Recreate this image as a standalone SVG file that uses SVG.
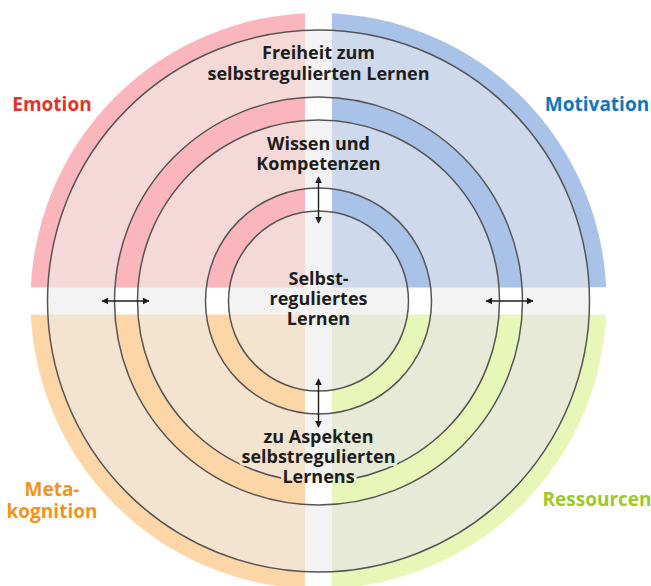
<svg xmlns="http://www.w3.org/2000/svg" xmlns:xlink="http://www.w3.org/1999/xlink" width="651" height="586" viewBox="0 0 651 586">
  <style>
    .ring { fill: none; stroke: #555555; stroke-width: 1.5; }
    .t { font-family: "Open Sans", "Liberation Sans", sans-serif; font-weight: 700; font-size: 18px; text-anchor: middle; }
    .lab { font-family: "Open Sans", "Liberation Sans", sans-serif; font-weight: 700; font-size: 19px; text-anchor: middle; }
    .conn { stroke: #1d1d1b; stroke-width: 1.4; fill: none; marker-start: url(#head); marker-end: url(#head); }
    .band { fill: none; stroke-width: 23; }
  </style>
  <defs>
    <marker id="head" viewBox="0 0 10 10" refX="9" refY="5" markerWidth="7" markerHeight="7" markerUnits="userSpaceOnUse" orient="auto-start-reverse">
      <path d="M0,0 L10,5 L0,10 Z" fill="#1d1d1b"/>
    </marker>
    <clipPath id="cTL"><rect x="0" y="0" width="305" height="287.3"/></clipPath>
    <clipPath id="cTR"><rect x="332" y="0" width="319" height="287.3"/></clipPath>
    <clipPath id="cBL"><rect x="0" y="314.7" width="305" height="272"/></clipPath>
    <clipPath id="cBR"><rect x="332" y="314.7" width="319" height="272"/></clipPath>
    <!-- ring lines are cut where the lower caption crosses them -->
    <mask id="knock" maskUnits="userSpaceOnUse" x="0" y="0" width="651" height="586">
      <rect x="0" y="0" width="651" height="586" fill="#ffffff"/>
      <use xlink:href="#aspekteText" fill="#000000" stroke="#000000" stroke-width="6" stroke-linejoin="round"/>
    </mask>
  </defs>

  <!-- grey cross and white gaps between the rings -->
  <g id="background">
    <circle cx="318.5" cy="301" r="271" fill="#f3f3f3"/>
    <circle cx="318.5" cy="301" r="192.5" fill="none" stroke="#ffffff" stroke-width="23"/>
    <circle cx="318.5" cy="301" r="101.5" fill="none" stroke="#ffffff" stroke-width="23"/>
  </g>

  <!-- coloured quadrants: outer band, light fill, middle band, light fill, inner band, light core -->
  <g id="q-emotion" clip-path="url(#cTL)">
    <circle cx="318.5" cy="301" r="288" fill="#fbb6bd"/>
    <circle cx="318.5" cy="301" r="271" fill="#f5d9d9"/>
    <circle class="band" cx="318.5" cy="301" r="192.5" stroke="#fbb6bd"/>
    <circle class="band" cx="318.5" cy="301" r="101.5" stroke="#fbb6bd"/>
  </g>
  <g id="q-motivation" clip-path="url(#cTR)">
    <circle cx="318.5" cy="301" r="288" fill="#a9c3e8"/>
    <circle cx="318.5" cy="301" r="271" fill="#cfd9ec"/>
    <circle class="band" cx="318.5" cy="301" r="192.5" stroke="#a9c3e8"/>
    <circle class="band" cx="318.5" cy="301" r="101.5" stroke="#a9c3e8"/>
  </g>
  <g id="q-metakognition" clip-path="url(#cBL)">
    <circle cx="318.5" cy="301" r="288" fill="#fdd6a8"/>
    <circle cx="318.5" cy="301" r="271" fill="#f4e3cf"/>
    <circle class="band" cx="318.5" cy="301" r="192.5" stroke="#fdd6a8"/>
    <circle class="band" cx="318.5" cy="301" r="101.5" stroke="#fdd6a8"/>
  </g>
  <g id="q-ressourcen" clip-path="url(#cBR)">
    <circle cx="318.5" cy="301" r="288" fill="#e8f6b8"/>
    <circle cx="318.5" cy="301" r="271" fill="#e6ead6"/>
    <circle class="band" cx="318.5" cy="301" r="192.5" stroke="#e8f6b8"/>
    <circle class="band" cx="318.5" cy="301" r="101.5" stroke="#e8f6b8"/>
  </g>

  <g id="rings" mask="url(#knock)">
    <circle class="ring" cx="318.5" cy="301" r="271"/>
    <circle class="ring" cx="318.5" cy="301" r="204"/>
    <circle class="ring" cx="318.5" cy="301" r="181"/>
    <circle class="ring" cx="318.5" cy="301" r="113"/>
    <circle class="ring" cx="318.5" cy="301" r="90"/>
  </g>

  <g id="connectors">
    <line class="conn" x1="318.5" y1="177" x2="318.5" y2="223"/>
    <line class="conn" x1="318.5" y1="379" x2="318.5" y2="427"/>
    <line class="conn" x1="102" y1="301" x2="149" y2="301"/>
    <line class="conn" x1="486" y1="301" x2="533" y2="301"/>
  </g>

  <g id="n-freiheit" fill="#1d1d1b">
    <text class="t" x="318.5" y="59"><tspan x="318.5" y="59">Freiheit zum</tspan><tspan x="318.5" y="80">selbstregulierten Lernen</tspan></text>
  </g>
  <g id="n-wissen" fill="#1d1d1b">
    <text class="t" x="318.5" y="150"><tspan x="318.5" y="150">Wissen und</tspan><tspan x="318.5" y="170">Kompetenzen</tspan></text>
  </g>
  <g id="n-selbst" fill="#1d1d1b">
    <text class="t" x="318.5" y="285"><tspan x="318.5" y="285">Selbst-</tspan><tspan x="318.5" y="305">reguliertes</tspan><tspan x="318.5" y="325">Lernen</tspan></text>
  </g>
  <g id="n-aspekte" fill="#1d1d1b">
    <text id="aspekteText" class="t" x="318.5" y="443"><tspan x="318.5" y="443">zu Aspekten</tspan><tspan x="318.5" y="463">selbstregulierten</tspan><tspan x="318.5" y="483">Lernens</tspan></text>
  </g>

  <g id="l-emotion" fill="#e2332a"><text class="lab" x="52" y="111">Emotion</text></g>
  <g id="l-motivation" fill="#0b77c0"><text class="lab" x="597" y="111">Motivation</text></g>
  <g id="l-metakognition" fill="#f39419">
    <text class="lab" x="52" y="496"><tspan x="52" y="496">Meta-</tspan><tspan x="52" y="518">kognition</tspan></text>
  </g>
  <g id="l-ressourcen" fill="#9bc92a"><text class="lab" x="597" y="506">Ressourcen</text></g>
</svg>
